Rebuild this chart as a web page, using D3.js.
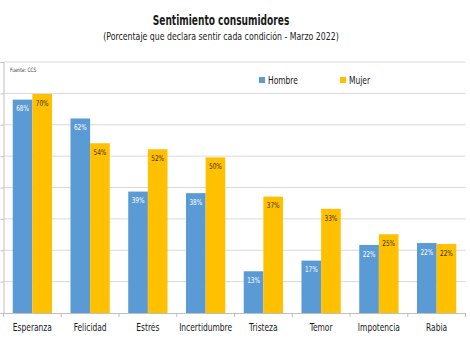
<!DOCTYPE html>
<html>
<head>
<meta charset="utf-8">
<script src="https://cdn.jsdelivr.net/npm/d3@7"></script>
<style>
  body { margin: 0; background: #fff; }
  text { font-family: 'DejaVu Sans Condensed', 'DejaVu Sans', sans-serif; }
</style>
</head>
<body>
<svg id="chart"></svg>
<script>
// data
const categories = ["Esperanza", "Felicidad", "Estrés", "Incertidumbre", "Tristeza", "Temor", "Impotencia", "Rabia"];
const series = ["Hombre", "Mujer"];
const hombre = [68, 62, 38.7, 38.2, 13.3, 16.7, 21.7, 22.3];
const mujer = [69.8, 54.1, 52.2, 49.6, 37.1, 33.2, 25.1, 22];
const yTicks = [0, 10, 20, 30, 40, 50, 60, 70, 80];

let width = 470,
  height = 344;
let margin = { top: 62, bottom: 31, left: 3.5, right: 4.5 };
let squeeze = 0.76; // the original font is a narrow one

let svg = d3.select("#chart").attr("width", width).attr("height", height);

let colors = { Hombre: "#5b9bd5", Mujer: "#ffc000" };

// free text placed at (x, y), squeezed horizontally
function label(x, y, txt, size, opts) {
  opts = opts || {};
  let g = svg.append("g").attr("transform", `translate(${x}, ${y})`);
  return g
    .append("text")
    .attr("transform", `scale(${opts.k || squeeze}, 1)`)
    .attr("text-anchor", opts.anchor || "start")
    .attr("dy", opts.dy || null)
    .attr("font-size", size)
    .attr("font-weight", opts.weight || null)
    .attr("fill", opts.fill || "#1a1a1a")
    .text(txt);
}

let x0 = d3
  .scaleBand()
  .domain(categories)
  .range([margin.left, width - margin.right])
  .paddingInner(0.32)
  .paddingOuter(0.16);

let x1 = d3.scaleBand().domain(series).range([0, x0.bandwidth()]);

let y = d3
  .scaleLinear()
  .domain([0, 80])
  .range([height - margin.bottom, margin.top]);

// gridlines
svg
  .selectAll(".grid")
  .data(yTicks.slice(1))
  .enter()
  .append("line")
  .attr("x1", margin.left)
  .attr("x2", width - margin.right)
  .attr("y1", (d) => y(d))
  .attr("y2", (d) => y(d))
  .attr("stroke", "#d9d9d9")
  .attr("stroke-width", 1);

// left axis
let yAxis = svg
  .append("g")
  .attr("transform", `translate(${margin.left}, 0)`)
  .call(d3.axisLeft(y).tickValues(yTicks).tickSize(3).tickFormat(""));
yAxis.selectAll("line,path").attr("stroke", "#bfbfbf");

// bars
let rows = categories.map((c, i) => ({ cat: c, vals: [hombre[i], mujer[i]] }));

let groups = svg
  .selectAll(".grp")
  .data(rows)
  .enter()
  .append("g")
  .attr("transform", (d) => `translate(${x0(d.cat)}, 0)`);

groups
  .selectAll("rect")
  .data((d) => series.map((s, k) => ({ s: s, v: d.vals[k] })))
  .enter()
  .append("rect")
  .attr("x", (d) => x1(d.s))
  .attr("y", (d) => y(d.v))
  .attr("width", x1.bandwidth())
  .attr("height", (d) => y(0) - y(d.v))
  .attr("fill", (d) => colors[d.s]);

groups
  .selectAll(".val")
  .data((d) => series.map((s, k) => ({ s: s, v: d.vals[k] })))
  .enter()
  .append("g")
  .attr("transform", (d) => `translate(${x1(d.s) + x1.bandwidth() / 2}, ${y(d.v) + 9})`)
  .append("text")
  .attr("transform", "scale(0.8, 1)")
  .attr("dy", "0.35em")
  .attr("text-anchor", "middle")
  .attr("font-size", "8px")
  .attr("fill", (d) => (d.s == "Hombre" ? "#ffffff" : "#3a2c00"))
  .text((d) => `${Math.round(d.v)}%`);

// x axis
let xAxis = svg
  .append("g")
  .attr("transform", `translate(0, ${y(0)})`)
  .call(d3.axisBottom(x0).tickSize(0).tickSizeOuter(0).tickPadding(10));
xAxis.select(".domain").attr("stroke", "#bfbfbf");
xAxis
  .selectAll("text")
  .attr("transform", `scale(${squeeze}, 1)`)
  .attr("font-size", "11px")
  .attr("fill", "#1a1a1a");

// ticks between categories
let step = x0.step();
svg
  .selectAll(".xtick")
  .data(d3.range(categories.length + 1))
  .enter()
  .append("line")
  .attr("x1", (d) => margin.left + d * step)
  .attr("x2", (d) => margin.left + d * step)
  .attr("y1", y(0))
  .attr("y2", y(0) + 4)
  .attr("stroke", "#bfbfbf");

// titles
label(221, 25, "Sentimiento consumidores", "14px", { anchor: "middle", weight: "bold", k: 0.72 });
label(221, 39.5, "(Porcentaje que declara sentir cada condición - Marzo 2022)", "11px", { anchor: "middle", k: 0.79 });
label(10, 72, "Fuente: CCS", "6px", { fill: "#404040", k: 0.8 });

// legend
let legendX = [259, 340];
series.forEach(function (s, i) {
  svg
    .append("rect")
    .attr("x", legendX[i])
    .attr("y", 77)
    .attr("width", 6)
    .attr("height", 6)
    .attr("fill", colors[s]);
  label(legendX[i] + 9, 80, s, "11px", { dy: "0.35em" });
});
</script>
</body>
</html>
